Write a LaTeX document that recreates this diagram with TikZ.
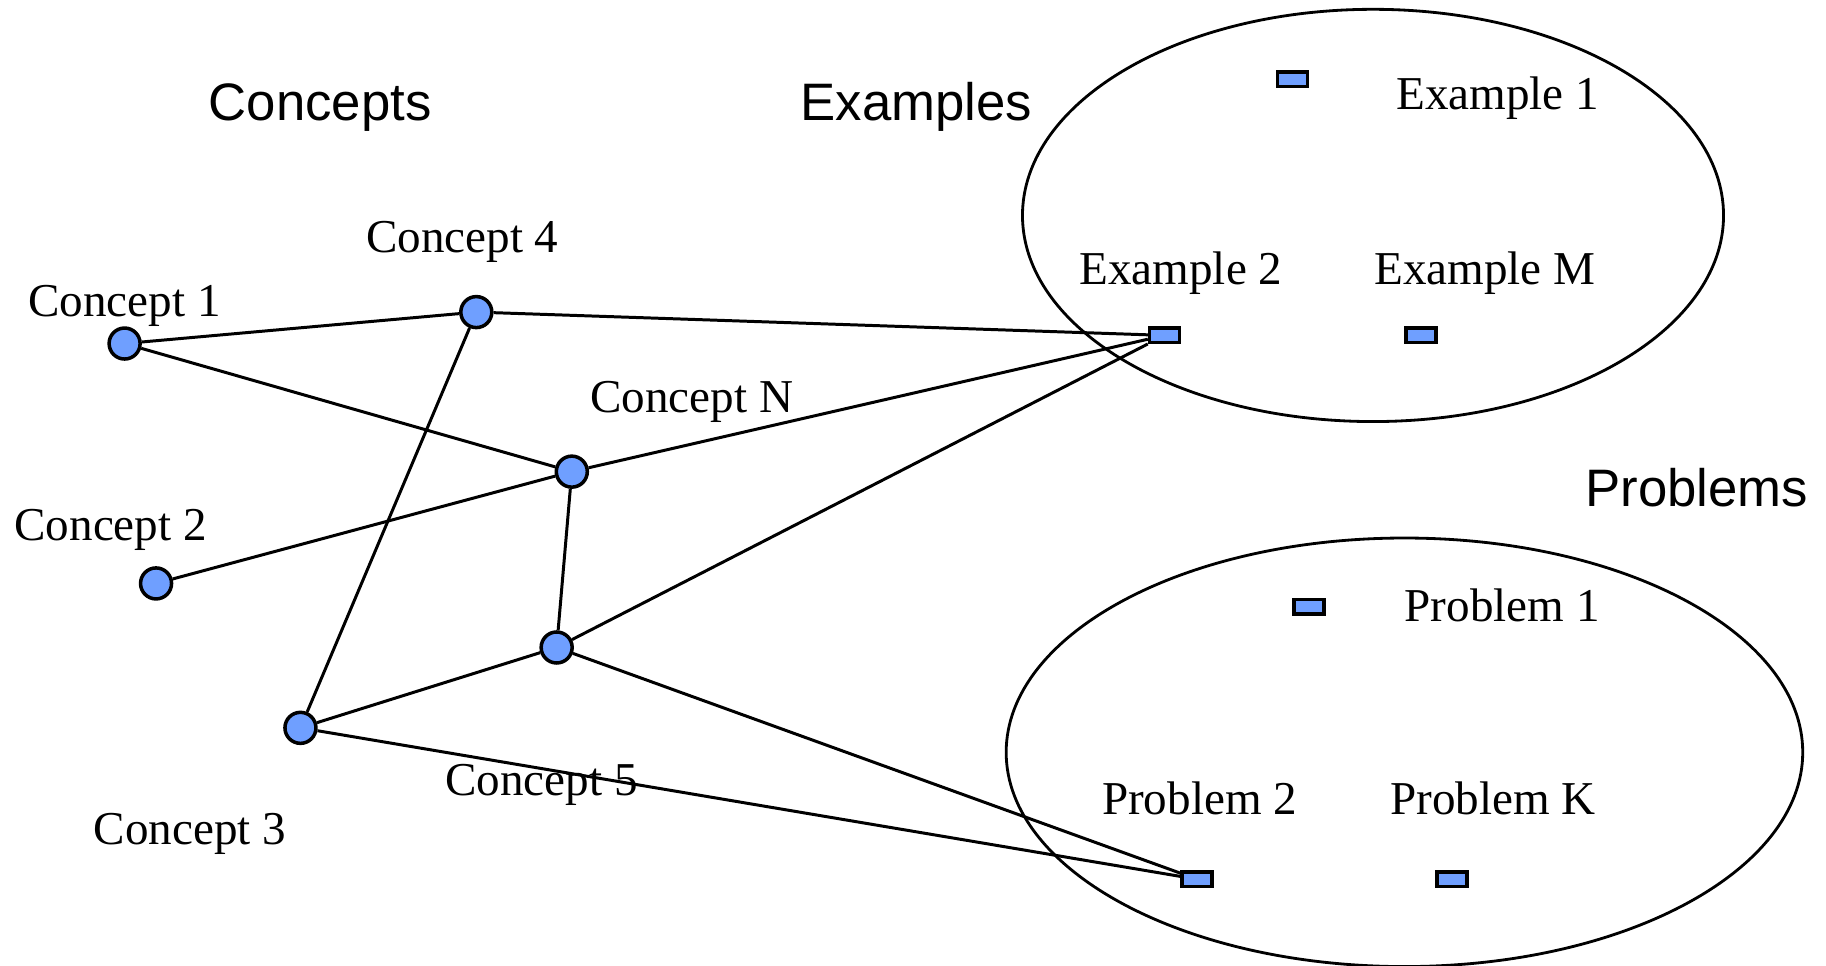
\documentclass[tikz,border=0pt]{standalone}
\usepackage{fontspec}
\setmainfont{Liberation Serif}
\newfontfamily\titlefont{Liberation Sans}
\definecolor{nodeblue}{RGB}{111,159,255}
\begin{document}
\begin{tikzpicture}[x=0.011645cm,y=-0.011645cm,
  concept/.style={circle,draw,fill=nodeblue,line width=1pt,minimum size=0.31cm,inner sep=0pt},
  item/.style={rectangle,draw,fill=nodeblue,line width=1pt,minimum width=0.3cm,minimum height=0.145cm,inner sep=0pt},
  lbl/.style={font=\fontsize{13.4}{16}\selectfont,inner sep=0pt},
  ttl/.style={font=\titlefont\fontsize{15}{18}\selectfont,inner sep=0pt},
  link/.style={line width=0.85pt},
  group/.style={line width=0.8pt}]
\useasboundingbox (0,0) rectangle (1568,829);
% groups
\draw[group] (1179,185) ellipse [x radius=301, y radius=177];
\draw[group] (1206,646) ellipse [x radius=342, y radius=184];
% titles
\node[ttl] (tc) at (275,92) {Concepts};
\node[ttl] (te) at (787,92) {Examples};
\node[ttl] (tp) at (1457,419) {Problems};
% concept nodes
\node[concept] (c1) at (107,295) {};
\node[concept] (c4) at (409,268) {};
\node[concept] (cn) at (491,405) {};
\node[concept] (c2) at (134,501) {};
\node[concept] (c5) at (478,556) {};
\node[concept] (c3) at (258,625) {};
% example / problem nodes
\node[item] (e1) at (1110,68) {};
\node[item] (e2) at (1000,288) {};
\node[item] (em) at (1220,288) {};
\node[item] (p1) at (1124,521) {};
\node[item] (p2) at (1028,755) {};
\node[item] (pk) at (1247,755) {};
% labels
\node[lbl] (lc1) at (107,263) {Concept 1};
\node[lbl] (lc4) at (397,208) {Concept 4};
\node[lbl] (lcn) at (594,345) {Concept N};
\node[lbl] (lc2) at (95,455) {Concept 2};
\node[lbl] (lc5) at (465,674) {Concept 5};
\node[lbl] (lc3) at (163,716) {Concept 3};
\node[lbl] (le1) at (1286,84) {Example 1};
\node[lbl] (le2) at (1014,235) {Example 2};
\node[lbl] (lem) at (1275,235) {Example M};
\node[lbl] (lp1) at (1290,520) {Problem 1};
\node[lbl] (lp2) at (1030,686) {Problem 2};
\node[lbl] (lpk) at (1282,686) {Problem K};
% links
\draw[link] (c1) -- (c4);
\draw[link] (c1) -- (cn);
\draw[link] (c4) -- (e2);
\draw[link] (c4) -- (c3);
\draw[link] (c2) -- (cn);
\draw[link] (cn) -- (e2);
\draw[link] (cn) -- (c5);
\draw[link] (c5) -- (e2);
\draw[link] (c5) -- (c3);
\draw[link] (c5) -- (p2);
\draw[link] (c3) -- (p2);
\end{tikzpicture}
\end{document}
